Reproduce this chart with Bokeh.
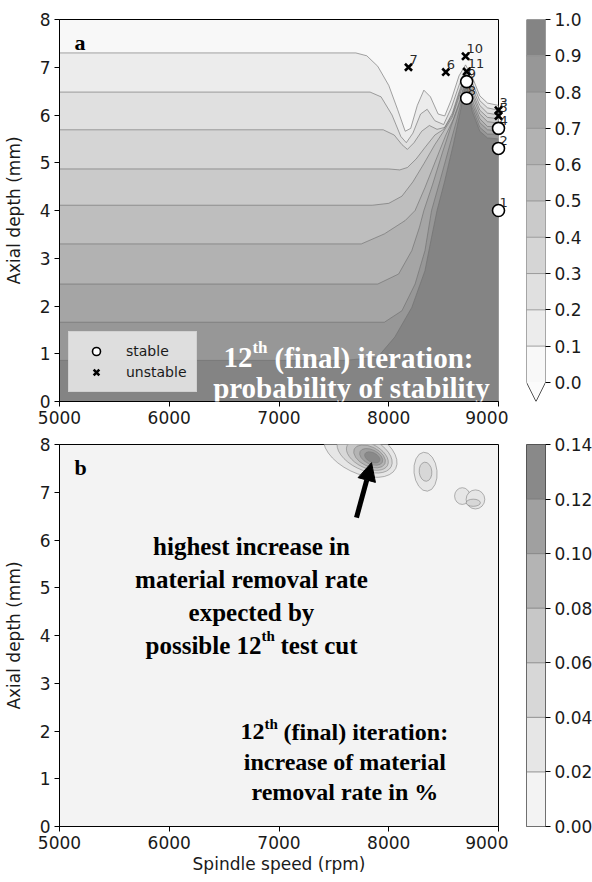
from bokeh.plotting import figure
from bokeh.models import (Range1d, FixedTicker, PrintfTickFormatter, Label, Arrow,
                          NormalHead, Legend, LegendItem)
from bokeh.layouts import gridplot
from bokeh.core.properties import value
from bokeh.embed import file_html
from bokeh.resources import INLINE

# ---------------- panel a: probability of stability ----------------
prob_levels = [0.0, 0.1, 0.2, 0.3, 0.4, 0.5, 0.6, 0.7, 0.8, 0.9, 1.0]
prob_colors = ["#f8f8f8", "#ececec", "#e0e0e0", "#d5d5d5", "#cacaca",
               "#bebebe", "#b2b2b2", "#a5a5a5", "#979797", "#848484"]

# contour boundaries: spindle speed (rpm) / axial depth (mm)
p10_speed = [5000, 7700, 7800, 7900, 8000, 8080, 8150, 8200, 8260, 8320, 8380, 8450, 8510, 8570, 8640, 8700, 8760, 8830, 8900, 9000]
p10_depth = [7.30, 7.30, 7.24, 7.02, 6.62, 6.12, 5.66, 5.72, 6.20, 6.52, 6.38, 6.02, 5.98, 6.32, 6.82, 7.05, 6.80, 6.40, 6.25, 6.20]
p20_speed = [5000, 7830, 7930, 8030, 8110, 8160, 8220, 8290, 8350, 8420, 8500, 8570, 8640, 8700, 8760, 8830, 8900, 9000]
p20_depth = [6.48, 6.48, 6.38, 6.00, 5.55, 5.42, 5.62, 6.02, 6.12, 5.88, 5.80, 6.15, 6.62, 6.96, 6.68, 6.30, 6.15, 6.10]
p30_speed = [5000, 7950, 8050, 8120, 8170, 8230, 8300, 8370, 8440, 8510, 8580, 8640, 8700, 8760, 8830, 8900, 9000]
p30_depth = [5.69, 5.69, 5.58, 5.38, 5.28, 5.42, 5.66, 5.78, 5.70, 5.74, 6.04, 6.48, 6.88, 6.58, 6.20, 6.04, 6.00]
p40_speed = [5000, 8000, 8100, 8170, 8250, 8330, 8420, 8500, 8580, 8640, 8700, 8760, 8830, 8900, 9000]
p40_depth = [4.87, 4.87, 4.85, 4.90, 5.08, 5.32, 5.58, 5.70, 6.00, 6.44, 6.82, 6.50, 6.10, 5.95, 5.92]
p50_speed = [5000, 7850, 8000, 8120, 8220, 8320, 8420, 8500, 8580, 8640, 8700, 8760, 8830, 8900, 9000]
p50_depth = [4.11, 4.11, 4.15, 4.30, 4.60, 4.98, 5.38, 5.66, 5.96, 6.38, 6.78, 6.42, 6.02, 5.86, 5.83]
p60_speed = [5000, 7750, 7960, 8150, 8240, 8330, 8430, 8520, 8590, 8650, 8700, 8760, 8830, 8900, 9000]
p60_depth = [3.30, 3.30, 3.51, 3.79, 4.00, 4.48, 5.06, 5.58, 5.92, 6.32, 6.74, 6.32, 5.92, 5.76, 5.75]
p70_speed = [5000, 7900, 8090, 8210, 8280, 8320, 8400, 8490, 8570, 8650, 8700, 8760, 8830, 8900, 9000]
p70_depth = [2.46, 2.46, 2.67, 3.16, 3.65, 4.00, 4.55, 5.22, 5.78, 6.28, 6.70, 6.24, 5.84, 5.69, 5.67]
p80_speed = [5000, 7960, 8120, 8240, 8330, 8390, 8470, 8550, 8620, 8670, 8705, 8760, 8830, 8900, 9000]
p80_depth = [1.66, 1.66, 1.90, 2.46, 3.16, 4.00, 4.65, 5.32, 5.90, 6.36, 6.66, 6.16, 5.74, 5.60, 5.60]
p90_speed = [5000, 7600, 7900, 8055, 8210, 8330, 8390, 8440, 8510, 8590, 8650, 8690, 8710, 8760, 8830, 8900, 9000]
p90_depth = [0.86, 0.86, 0.93, 1.35, 1.97, 2.74, 3.44, 4.00, 4.62, 5.40, 6.05, 6.50, 6.60, 6.08, 5.66, 5.52, 5.50]

# test cuts
test_id = ["1", "2", "3", "4", "5", "6", "7", "8", "9", "10", "11"]
test_speed = [9000, 9000, 9000, 9000, 9000, 8520, 8180, 8710, 8710, 8700, 8710]
test_depth = [4.00, 5.30, 6.10, 5.72, 5.98, 6.90, 7.00, 6.35, 6.70, 7.23, 6.91]
test_stable = [True, True, False, True, False, False, False, True, True, False, False]

# ---------------- panel b: increase of material removal rate ----------------
mrr_levels = [0.00, 0.02, 0.04, 0.06, 0.08, 0.10, 0.12, 0.14]
mrr_colors = ["#f3f3f3", "#e6e6e6", "#d7d7d7", "#c7c7c7", "#b4b4b4", "#a0a0a0", "#898989"]
# contour rings (level, centre speed, centre depth, width rpm, height mm, tilt)
ring_level = [0.02, 0.02, 0.02, 0.02, 0.04, 0.04, 0.04, 0.06, 0.08, 0.10, 0.12]
ring_speed = [7740, 8335, 8670, 8790, 7780, 8335, 8770, 7805, 7825, 7840, 7850]
ring_depth = [7.86, 7.43, 6.92, 6.85, 7.81, 7.43, 6.78, 7.77, 7.75, 7.74, 7.73]
ring_width = [720, 210, 140, 170, 540, 115, 130, 410, 310, 225, 150]
ring_height = [0.92, 0.82, 0.35, 0.40, 0.68, 0.40, 0.15, 0.52, 0.41, 0.30, 0.20]
ring_angle = [-0.45, 0.1, 0.0, 0.0, -0.45, 0.1, 0.0, -0.45, -0.45, -0.45, -0.45]

speed_ticks = [5000, 6000, 7000, 8000, 9000]
depth_ticks = [0, 1, 2, 3, 4, 5, 6, 7, 8]

FONT = "DejaVu Sans"
SERIF = "Liberation Serif"


def style_axes(f, xlabel=None, ylabel=None):
    for ax in (f.xaxis[0], f.yaxis[0]):
        ax.major_label_text_font = FONT
        ax.major_label_text_font_size = "17px"
        ax.major_label_text_color = "#1a1a1a"
        ax.axis_line_color = "black"
        ax.major_tick_line_color = "black"
        ax.major_tick_out = 5
        ax.major_tick_in = 0
        ax.minor_tick_line_color = None
        ax.major_label_standoff = 4
        ax.axis_label_text_font = FONT
        ax.axis_label_text_font_size = "17px"
        ax.axis_label_text_font_style = "normal"
        ax.axis_label_text_color = "#1a1a1a"
    f.xaxis.ticker = FixedTicker(ticks=speed_ticks)
    f.yaxis.ticker = FixedTicker(ticks=depth_ticks)
    f.yaxis.axis_label = ylabel
    f.yaxis.axis_label_standoff = 13
    if xlabel:
        f.xaxis.axis_label = xlabel
        f.xaxis.axis_label_standoff = 2
    f.grid.visible = False


def txt(fig, x, y, s, size, color, align="left"):
    fig.add_layout(Label(x=x, y=y, text=s, text_font=SERIF, text_font_size=size,
                         text_font_style="bold", text_color=color,
                         text_baseline="alphabetic", text_align=align))


# ================= panel a =================
a = figure(frame_width=439, frame_height=382, min_border_left=58, min_border_right=10,
           min_border_top=19, min_border_bottom=30,
           x_range=Range1d(5000, 9000), y_range=Range1d(0, 8),
           toolbar_location=None, output_backend="svg",
           background_fill_color=prob_colors[0], outline_line_color="black")
style_axes(a, ylabel="Axial depth (mm)")

bounds = [(p10_speed, p10_depth), (p20_speed, p20_depth), (p30_speed, p30_depth),
          (p40_speed, p40_depth), (p50_speed, p50_depth), (p60_speed, p60_depth),
          (p70_speed, p70_depth), (p80_speed, p80_depth), (p90_speed, p90_depth)]
for k, (sp, dp) in enumerate(bounds):
    a.varea(x=sp, y1=0, y2=dp, fill_color=prob_colors[k + 1], fill_alpha=1.0)
for sp, dp in bounds:
    a.line(sp, dp, line_color="#707070", line_width=0.8, line_alpha=0.8)

# point labels (under the markers, not clipped at the frame edge)
a.text(x=test_speed, y=test_depth, text=test_id, x_offset=1, y_offset=-8,
       text_font=value(FONT), text_font_size="13px", text_color="#2a2a2a",
       text_baseline="alphabetic", text_align="left", level="overlay")

st_x = [s for s, ok in zip(test_speed, test_stable) if ok]
st_y = [d for d, ok in zip(test_depth, test_stable) if ok]
un_x = [s for s, ok in zip(test_speed, test_stable) if not ok]
un_y = [d for d, ok in zip(test_depth, test_stable) if not ok]
r_st = a.scatter(st_x, st_y, marker="circle", size=12, fill_color="white",
                 line_color="black", line_width=1.6, level="overlay")
r_un = a.scatter(un_x, un_y, marker="x", size=10, line_color="black",
                 line_width=2.6, level="overlay")

leg = Legend(items=[LegendItem(label="stable", renderers=[r_st]),
                    LegendItem(label="unstable", renderers=[r_un])],
             location=(9, 9))
leg.background_fill_color = "#e4e4e4"
leg.background_fill_alpha = 0.92
leg.border_line_color = "#c4c4c4"
leg.label_text_font = FONT
leg.label_text_font_size = "14px"
leg.label_text_color = "#1a1a1a"
leg.glyph_width = 36
leg.label_standoff = 12
leg.padding = 9
leg.spacing = 1
leg.margin = 0
a.add_layout(leg)

txt(a, 5137, 7.52, "a", "22px", "black")
txt(a, 6494, 0.92, "12", "29px", "white")
txt(a, 6758, 1.13, "th", "17px", "white")
txt(a, 6959, 0.92, "(final) iteration:", "29px", "white")
txt(a, 7660, 0.29, "probability of stability", "29px", "white", "center")

# colour bar a
ca = figure(frame_width=19, frame_height=382, min_border_left=18, min_border_right=48,
            min_border_top=19, min_border_bottom=30,
            x_range=Range1d(0, 1), y_range=Range1d(-0.0526, 1.0), y_axis_location="right",
            toolbar_location=None, output_backend="svg", outline_line_color=None,
            background_fill_color="white")
ca.xaxis.visible = False
ca.grid.visible = False
ca.quad(left=0, right=1, bottom=prob_levels[:-1], top=prob_levels[1:],
        fill_color=prob_colors, line_color=None)
ca.patch([0, 1, 0.5], [0, 0, -0.0526], fill_color="#fbfbfb", line_color=None)
ca.segment(x0=0, x1=1, y0=prob_levels[1:-1], y1=prob_levels[1:-1],
           line_color="#8a8a8a", line_width=0.8)
ca.line([0, 0, 1, 1, 0.5, 0], [0, 1, 1, 0, -0.0526, 0], line_color="#555555", line_width=1)
cax = ca.yaxis[0]
cax.ticker = FixedTicker(ticks=prob_levels)
cax.formatter = PrintfTickFormatter(format="%.1f")
cax.axis_line_color = None
cax.major_tick_out = 5
cax.major_tick_in = 0
cax.major_tick_line_color = "black"
cax.minor_tick_line_color = None
cax.major_label_standoff = 4
cax.major_label_text_font = FONT
cax.major_label_text_font_size = "17px"
cax.major_label_text_color = "#1a1a1a"

# ================= panel b =================
b = figure(frame_width=439, frame_height=382, min_border_left=58, min_border_right=10,
           min_border_top=13, min_border_bottom=56,
           x_range=Range1d(5000, 9000), y_range=Range1d(0, 8),
           toolbar_location=None, output_backend="svg",
           background_fill_color=mrr_colors[0], outline_line_color="black")
style_axes(b, xlabel="Spindle speed (rpm)", ylabel="Axial depth (mm)")

ring_color = [mrr_colors[int(round(lv / 0.02))] for lv in ring_level]
b.ellipse(x=ring_speed, y=ring_depth, width=ring_width, height=ring_height,
          angle=ring_angle, fill_color=ring_color, line_color="#7a7a7a",
          line_width=0.7, line_alpha=0.8)

txt(b, 5137, 7.52, "b", "22px", "black")
b.add_layout(Arrow(end=NormalHead(size=18, fill_color="black", line_color="black"),
                   x_start=7706, y_start=6.47, x_end=7843, y_end=7.62,
                   line_width=5, line_color="black"))
for i, t in enumerate(["highest increase in", "material removal rate", "expected by"]):
    txt(b, 6749, 5.87 - 0.69 * i, t, "25px", "black", "center")
txt(b, 5784, 3.80, "possible 12", "25px", "black")
txt(b, 6841, 3.99, "th", "15px", "black")
txt(b, 7014, 3.80, "test cut", "25px", "black")

txt(b, 6649, 1.98, "12", "24px", "black")
txt(b, 6868, 2.15, "th", "15px", "black")
txt(b, 7041, 1.98, "(final) iteration:", "24px", "black")
for i, t in enumerate(["increase of material", "removal rate in %"]):
    txt(b, 7600, 1.35 - 0.63 * i, t, "24px", "black", "center")

# colour bar b
cb = figure(frame_width=19, frame_height=382, min_border_left=18, min_border_right=48,
            min_border_top=13, min_border_bottom=56,
            x_range=Range1d(0, 1), y_range=Range1d(0, 0.14), y_axis_location="right",
            toolbar_location=None, output_backend="svg", outline_line_color="#444444",
            background_fill_color="white")
cb.xaxis.visible = False
cb.grid.visible = False
cb.quad(left=0, right=1, bottom=mrr_levels[:-1], top=mrr_levels[1:],
        fill_color=mrr_colors, line_color=None)
cb.segment(x0=0, x1=1, y0=mrr_levels[1:-1], y1=mrr_levels[1:-1],
           line_color="#7a7a7a", line_width=0.8)
cbx = cb.yaxis[0]
cbx.ticker = FixedTicker(ticks=mrr_levels)
cbx.formatter = PrintfTickFormatter(format="%.2f")
cbx.axis_line_color = None
cbx.major_tick_out = 5
cbx.major_tick_in = 0
cbx.major_tick_line_color = "black"
cbx.minor_tick_line_color = None
cbx.major_label_standoff = 4
cbx.major_label_text_font = FONT
cbx.major_label_text_font_size = "17px"
cbx.major_label_text_color = "#1a1a1a"

p = gridplot([[a, ca], [b, cb]], toolbar_location=None)
open("out.html", "w").write(file_html(p, INLINE))
